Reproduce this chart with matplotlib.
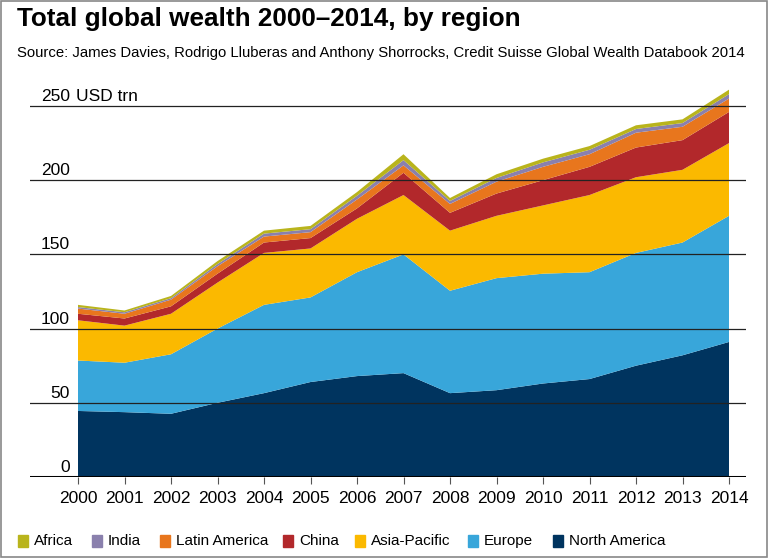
import matplotlib
matplotlib.use("Agg")
import matplotlib.pyplot as plt
from matplotlib.patches import Rectangle
from matplotlib.transforms import offset_copy

plt.rcParams['font.family'] = ['Liberation Sans', 'DejaVu Sans']

years = list(range(2000, 2015))
regions = ["North America", "Europe", "Asia-Pacific", "China", "Latin America", "India", "Africa"]
north_america = [44.5, 43.7, 42.6, 50, 56.5, 64, 68, 70, 56.5, 58.5, 63, 66, 75, 82, 91]
europe = [34.0, 33.3, 40.1, 50, 59.5, 57, 70, 80, 69, 75.5, 74, 72, 76, 76, 85]
asia_pacific = [27.1, 25, 27.3, 31, 35, 33, 36, 40, 40.5, 42, 46, 52, 51, 49, 49]
china = [4.4, 4.8, 5, 6, 7, 7, 7, 15, 12, 15, 17, 19, 20, 20, 21]
latin_america = [3.5, 3.2, 4.5, 5, 4, 4, 6, 5, 6, 8, 9, 8.5, 10, 9, 9]
india = [1, 1, 1, 1.5, 2, 2, 2.5, 3.5, 2, 2.5, 3, 3, 2.5, 2.5, 3]
africa = [1.5, 1.2, 1.5, 2, 2, 2.2, 2.5, 4, 2, 2.5, 2.5, 2.5, 2.5, 2.5, 3]
series = [north_america, europe, asia_pacific, china, latin_america, india, africa]
colors = ["#00345f", "#38a6da", "#fbb900", "#b2282b", "#e8761d", "#8a80ad", "#b9b41c"]
ytick_vals = [0, 50, 100, 150, 200, 250]
legend_order = ["Africa", "India", "Latin America", "China", "Asia-Pacific", "Europe", "North America"]

W, H = 768, 558
fig = plt.figure(figsize=(W / 100, H / 100), dpi=100)

# axes geometry in pixels
x_left_px, x_right_px = 30, 746
y_zero_px = 477
px_per_year = (729 - 78) / 14
px_per_unit = (477 - 106) / 250
ymax = 270
x0 = 2000 - (78 - x_left_px) / px_per_year
x1 = 2014 + (x_right_px - 729) / px_per_year
top_px = y_zero_px - ymax * px_per_unit
ax = fig.add_axes([x_left_px / W, (H - y_zero_px) / H,
                   (x_right_px - x_left_px) / W, (y_zero_px - top_px) / H])
ax.set_xlim(x0, x1)
ax.set_ylim(0, ymax)

ax.stackplot(years, *series, colors=colors, linewidth=0, zorder=1)

for v in ytick_vals[1:]:
    ax.axhline(v, color="#222222", lw=0.9, zorder=3)
ax.axhline(0, color="black", lw=2.2, zorder=4)

for s in ax.spines.values():
    s.set_visible(False)
ax.set_yticks([])
ax.set_xticks(years)
ax.set_xticklabels([str(y) for y in years], fontsize=12.5)
ax.tick_params(axis="x", length=5, width=0.8, color="#555555", pad=5)

lab_tr = offset_copy(ax.transData, fig=fig, x=0, y=1.5, units="points")
xlab = 2000 - 8 / px_per_year
for v in ytick_vals:
    ax.text(xlab, v, str(v), ha="right", va="bottom", fontsize=12.5, transform=lab_tr)
ax.text(xlab + 6 / px_per_year, 250, "USD trn", ha="left", va="bottom", fontsize=12.5,
        transform=lab_tr)

fig.text(17 / W, 1 - 19 / H, "Total global wealth 2000\u20132014, by region",
         fontsize=18.8, fontweight="bold", ha="left", va="center")
fig.text(17 / W, 1 - 53 / H,
         "Source: James Davies, Rodrigo Lluberas and Anthony Shorrocks, Credit Suisse Global Wealth Databook 2014",
         fontsize=10.75, ha="left", va="center")

# legend
leg_x = [18, 92, 160, 283, 355, 468, 553]
color_of = dict(zip(regions, colors))
for name, xp in zip(legend_order, leg_x):
    fig.patches.append(Rectangle((xp / W, 1 - 547 / H), 10 / W, 12 / H,
                                 transform=fig.transFigure, color=color_of[name]))
    fig.text((xp + 16) / W, 1 - 541 / H, name, fontsize=11, ha="left", va="center")

# border
fig.patches.append(Rectangle((0.5 / W, 1.5 / H), (W - 1.5) / W, (H - 2.5) / H,
                             transform=fig.transFigure, fill=False,
                             edgecolor="#888888", lw=1.2))

fig.savefig("out.png", dpi=100)
